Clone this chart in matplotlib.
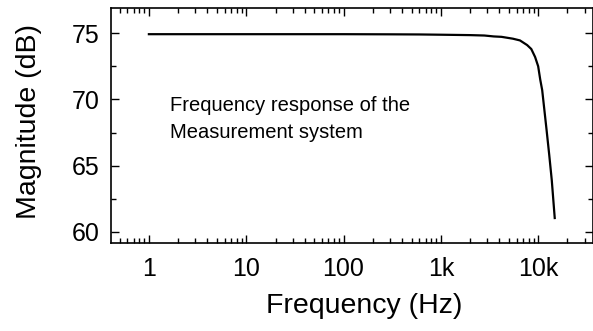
import matplotlib
matplotlib.use("Agg")
import matplotlib.pyplot as plt
from matplotlib.ticker import FixedLocator, FixedFormatter, LogLocator, NullFormatter, MultipleLocator

plt.rcParams["font.family"] = ["Liberation Sans", "DejaVu Sans"]

# frequency response
freq_hz = [1, 10, 100, 300, 600, 1000, 2000, 2800, 3500, 4200, 5500,
           6500, 7700, 8500, 9300, 10000, 10500, 11000, 12200, 13000, 13800, 14800]
mag_db = [74.92, 74.92, 74.92, 74.91, 74.9, 74.88, 74.85, 74.82, 74.75, 74.72, 74.58,
          74.45, 74.1, 73.8, 73.2, 72.5, 71.5, 70.7, 67.7, 65.8, 63.9, 61.05]

x_ticks = [1, 10, 100, 1000, 10000]
x_tick_labels = ["1", "10", "100", "1k", "10k"]
y_ticks = [60, 65, 70, 75]

fig = plt.figure(figsize=(5.93, 3.31), dpi=100)
ax = fig.add_axes([0.187, 0.266, 0.813, 0.71])

ax.plot(freq_hz, mag_db, color="black", linewidth=1.6)

ax.set_xscale("log")
ax.set_xlim(0.407, 36600)
ax.set_ylim(59.17, 76.9)

ax.xaxis.set_major_locator(FixedLocator(x_ticks))
ax.xaxis.set_major_formatter(FixedFormatter(x_tick_labels))
ax.xaxis.set_minor_locator(LogLocator(base=10, subs=range(2, 10), numticks=20))
ax.xaxis.set_minor_formatter(NullFormatter())
ax.yaxis.set_major_locator(FixedLocator(y_ticks))
ax.yaxis.set_minor_locator(MultipleLocator(2.5))

ax.tick_params(which="both", direction="in", top=True, right=True,
               width=1.0, labelsize=18)
ax.tick_params(axis="x", which="major", pad=10)
ax.tick_params(axis="y", which="major", pad=8)
ax.tick_params(which="major", length=6)
ax.tick_params(which="minor", length=3.5)
for s in ax.spines.values():
    s.set_linewidth(1.2)

ax.set_xlabel("Frequency (Hz)", fontsize=20.5, va="center")
ax.set_ylabel("Magnitude (dB)", fontsize=20.5, va="center")
ax.xaxis.set_label_coords(0.525, -0.268)
ax.yaxis.set_label_coords(-0.170, 0.515)

ax.text(1.64, 70.25, "Frequency response of the\nMeasurement system",
        fontsize=14.5, va="top", ha="left", linespacing=1.5)

fig.savefig("out.png", dpi=100)
